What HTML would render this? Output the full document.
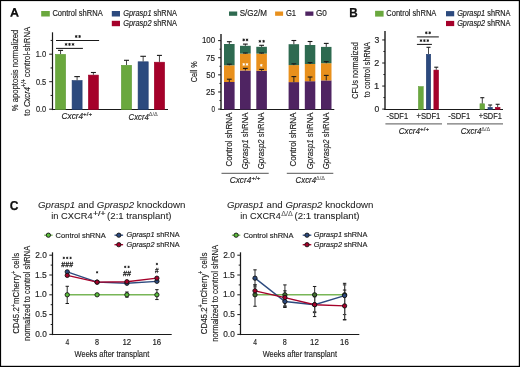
<!DOCTYPE html>
<html><head><meta charset="utf-8"><style>
html,body{margin:0;padding:0;background:#fff;overflow:hidden;}
svg{display:block;will-change:transform;}
text{font-family:"Liberation Sans", sans-serif;}
</style></head><body>
<svg width="520" height="367" viewBox="0 0 520 367">
<rect x="0.00" y="0.00" width="520.00" height="367.00" fill="#fff" />
<path d="M10.1 16.8 L13.5 8.1 L15.5 8.1 L18.9 16.8 L16.8 16.8 L16.1 14.8 L12.9 14.8 L12.2 16.8 Z M13.5 13.1 L15.5 13.1 L14.5 10.3 Z" fill="#111" fill-rule="evenodd"/>
<rect x="41.20" y="11.00" width="8.60" height="5.50" fill="#6aa83e" />
<text x="52.42" y="16.00" font-size="8.2" textLength="50.31" lengthAdjust="spacingAndGlyphs" fill="#232323" stroke="#232323" stroke-width="0.16"><tspan>Control shRNA</tspan></text>
<rect x="111.80" y="11.00" width="8.20" height="5.50" fill="#2c4a7e" />
<text x="123.13" y="15.80" font-size="8.2" textLength="53.88" lengthAdjust="spacingAndGlyphs" fill="#232323" stroke="#232323" stroke-width="0.16"><tspan font-style="italic">Gprasp1</tspan><tspan> shRNA</tspan></text>
<rect x="111.80" y="20.80" width="8.20" height="5.40" fill="#a5012a" />
<text x="123.13" y="25.80" font-size="8.2" textLength="53.88" lengthAdjust="spacingAndGlyphs" fill="#232323" stroke="#232323" stroke-width="0.16"><tspan font-style="italic">Gprasp2</tspan><tspan> shRNA</tspan></text>
<line x1="52.50" y1="32.30" x2="52.50" y2="110.10" stroke="#1a1a1a" stroke-width="1.2" />
<line x1="51.90" y1="109.50" x2="168.00" y2="109.50" stroke="#1a1a1a" stroke-width="1.1" />
<line x1="49.20" y1="109.20" x2="52.50" y2="109.20" stroke="#1a1a1a" stroke-width="1.0" />
<text x="35.90" y="112.15" font-size="8.9" textLength="10.25" lengthAdjust="spacingAndGlyphs" fill="#232323" stroke="#232323" stroke-width="0.16"><tspan>0.0</tspan></text>
<line x1="49.20" y1="81.70" x2="52.50" y2="81.70" stroke="#1a1a1a" stroke-width="1.0" />
<text x="35.90" y="84.65" font-size="8.9" textLength="10.29" lengthAdjust="spacingAndGlyphs" fill="#232323" stroke="#232323" stroke-width="0.16"><tspan>0.5</tspan></text>
<line x1="49.20" y1="54.20" x2="52.50" y2="54.20" stroke="#1a1a1a" stroke-width="1.0" />
<text x="35.63" y="57.15" font-size="8.9" textLength="10.53" lengthAdjust="spacingAndGlyphs" fill="#232323" stroke="#232323" stroke-width="0.16"><tspan>1.0</tspan></text>
<line x1="50.60" y1="95.45" x2="52.50" y2="95.45" stroke="#1a1a1a" stroke-width="1.0" />
<line x1="50.60" y1="67.95" x2="52.50" y2="67.95" stroke="#1a1a1a" stroke-width="1.0" />
<line x1="50.60" y1="40.45" x2="52.50" y2="40.45" stroke="#1a1a1a" stroke-width="1.0" />
<rect x="55.50" y="54.40" width="10.10" height="55.10" fill="#6aa83e" stroke="#5e9a36" stroke-width="0.6"/>
<line x1="60.55" y1="54.10" x2="60.55" y2="50.40" stroke="#333" stroke-width="0.9" />
<line x1="58.05" y1="50.40" x2="63.05" y2="50.40" stroke="#1a1a1a" stroke-width="1.1" />
<rect x="72.10" y="80.60" width="10.00" height="28.90" fill="#2c4a7e" stroke="#1f3b6e" stroke-width="0.6"/>
<line x1="77.10" y1="80.30" x2="77.10" y2="76.60" stroke="#333" stroke-width="0.9" />
<line x1="74.30" y1="76.60" x2="79.90" y2="76.60" stroke="#1a1a1a" stroke-width="1.1" />
<rect x="88.40" y="75.10" width="10.00" height="34.40" fill="#a5012a" stroke="#9a0126" stroke-width="0.6"/>
<line x1="93.40" y1="74.80" x2="93.40" y2="72.50" stroke="#333" stroke-width="0.9" />
<line x1="90.90" y1="72.50" x2="95.90" y2="72.50" stroke="#1a1a1a" stroke-width="1.1" />
<rect x="121.40" y="65.30" width="10.20" height="44.20" fill="#6aa83e" stroke="#5e9a36" stroke-width="0.6"/>
<line x1="126.50" y1="65.00" x2="126.50" y2="60.30" stroke="#333" stroke-width="0.9" />
<line x1="124.00" y1="60.30" x2="129.00" y2="60.30" stroke="#1a1a1a" stroke-width="1.1" />
<rect x="138.10" y="61.80" width="10.10" height="47.70" fill="#2c4a7e" stroke="#1f3b6e" stroke-width="0.6"/>
<line x1="143.15" y1="61.50" x2="143.15" y2="56.30" stroke="#333" stroke-width="0.9" />
<line x1="140.35" y1="56.30" x2="145.95" y2="56.30" stroke="#1a1a1a" stroke-width="1.1" />
<rect x="154.30" y="62.20" width="10.30" height="47.30" fill="#a5012a" stroke="#9a0126" stroke-width="0.6"/>
<line x1="159.45" y1="61.90" x2="159.45" y2="55.40" stroke="#333" stroke-width="0.9" />
<line x1="156.95" y1="55.40" x2="161.95" y2="55.40" stroke="#1a1a1a" stroke-width="1.1" />
<line x1="56.00" y1="40.40" x2="99.10" y2="40.40" stroke="#1a1a1a" stroke-width="1.05" />
<line x1="56.00" y1="48.40" x2="82.90" y2="48.40" stroke="#1a1a1a" stroke-width="1.05" />
<path d="M76.20 35.06L76.20 37.94M74.96 35.78L77.44 37.22M77.44 35.78L74.96 37.22" stroke="#1a1a1a" stroke-width="0.89" fill="none"/>
<circle cx="76.20" cy="36.50" r="0.63" fill="#1a1a1a"/>
<path d="M79.60 35.06L79.60 37.94M78.36 35.78L80.84 37.22M80.84 35.78L78.36 37.22" stroke="#1a1a1a" stroke-width="0.89" fill="none"/>
<circle cx="79.60" cy="36.50" r="0.63" fill="#1a1a1a"/>
<path d="M66.10 42.96L66.10 45.84M64.86 43.68L67.34 45.12M67.34 43.68L64.86 45.12" stroke="#1a1a1a" stroke-width="0.89" fill="none"/>
<circle cx="66.10" cy="44.40" r="0.63" fill="#1a1a1a"/>
<path d="M69.50 42.96L69.50 45.84M68.26 43.68L70.74 45.12M70.74 43.68L68.26 45.12" stroke="#1a1a1a" stroke-width="0.89" fill="none"/>
<circle cx="69.50" cy="44.40" r="0.63" fill="#1a1a1a"/>
<path d="M73.00 42.96L73.00 45.84M71.76 43.68L74.24 45.12M74.24 43.68L71.76 45.12" stroke="#1a1a1a" stroke-width="0.89" fill="none"/>
<circle cx="73.00" cy="44.40" r="0.63" fill="#1a1a1a"/>
<text x="61.55" y="118.60" font-size="8.6" textLength="21.55" lengthAdjust="spacingAndGlyphs" fill="#232323" stroke="#232323" stroke-width="0.16"><tspan font-style="italic">Cxcr4</tspan></text>
<text x="83.09" y="115.60" font-size="6.0" textLength="9.03" lengthAdjust="spacingAndGlyphs" fill="#232323" stroke="#232323" stroke-width="0.16"><tspan>+/+</tspan></text>
<text x="128.57" y="119.60" font-size="8.6" textLength="20.21" lengthAdjust="spacingAndGlyphs" fill="#232323" stroke="#232323" stroke-width="0.16"><tspan font-style="italic">Cxcr4</tspan></text>
<text x="148.83" y="116.30" font-size="5.9" textLength="9.03" lengthAdjust="spacingAndGlyphs" fill="#555" stroke="#555" stroke-width="0.05"><tspan>Δ/Δ</tspan></text>
<text x="18.10" y="111.17" font-size="9.8" textLength="81.48" lengthAdjust="spacingAndGlyphs" transform="rotate(-90 18.10 111.17)" fill="#232323" stroke="#232323" stroke-width="0.16"><tspan>% apoptosis normalized</tspan></text>
<text x="29.70" y="115.72" font-size="9.8" textLength="88.93" lengthAdjust="spacingAndGlyphs" transform="rotate(-90 29.70 115.72)" fill="#232323" stroke="#232323" stroke-width="0.16"><tspan>to </tspan><tspan font-style="italic">Cxcr4</tspan><tspan font-size="6.66" dy="-3.72">+/+</tspan><tspan dy="3.72"> control-shRNA</tspan></text>
<rect x="229.00" y="11.50" width="8.20" height="4.30" fill="#2e6a50" />
<text x="239.64" y="15.60" font-size="8.2" textLength="27.24" lengthAdjust="spacingAndGlyphs" fill="#232323" stroke="#232323" stroke-width="0.16"><tspan>S/G2/M</tspan></text>
<rect x="275.10" y="11.50" width="8.00" height="4.30" fill="#e8901c" />
<text x="285.92" y="15.60" font-size="8.2" textLength="10.22" lengthAdjust="spacingAndGlyphs" fill="#232323" stroke="#232323" stroke-width="0.16"><tspan>G1</tspan></text>
<rect x="305.30" y="11.50" width="8.10" height="4.30" fill="#4f2462" />
<text x="315.89" y="15.60" font-size="8.2" textLength="10.89" lengthAdjust="spacingAndGlyphs" fill="#232323" stroke="#232323" stroke-width="0.16"><tspan>G0</tspan></text>
<line x1="221.00" y1="33.90" x2="221.00" y2="110.10" stroke="#1a1a1a" stroke-width="1.4" />
<line x1="220.30" y1="109.50" x2="334.30" y2="109.50" stroke="#1a1a1a" stroke-width="1.1" />
<line x1="218.10" y1="109.10" x2="221.00" y2="109.10" stroke="#1a1a1a" stroke-width="1.0" />
<text x="211.55" y="111.95" font-size="8.9" textLength="3.48" lengthAdjust="spacingAndGlyphs" fill="#232323" stroke="#232323" stroke-width="0.16"><tspan>0</tspan></text>
<line x1="218.10" y1="91.97" x2="221.00" y2="91.97" stroke="#1a1a1a" stroke-width="1.0" />
<text x="206.09" y="94.82" font-size="8.9" textLength="9.05" lengthAdjust="spacingAndGlyphs" fill="#232323" stroke="#232323" stroke-width="0.16"><tspan>25</tspan></text>
<line x1="218.10" y1="74.85" x2="221.00" y2="74.85" stroke="#1a1a1a" stroke-width="1.0" />
<text x="206.18" y="77.70" font-size="8.9" textLength="8.92" lengthAdjust="spacingAndGlyphs" fill="#232323" stroke="#232323" stroke-width="0.16"><tspan>50</tspan></text>
<line x1="218.10" y1="57.72" x2="221.00" y2="57.72" stroke="#1a1a1a" stroke-width="1.0" />
<text x="206.09" y="60.57" font-size="8.9" textLength="9.05" lengthAdjust="spacingAndGlyphs" fill="#232323" stroke="#232323" stroke-width="0.16"><tspan>75</tspan></text>
<line x1="218.10" y1="40.60" x2="221.00" y2="40.60" stroke="#1a1a1a" stroke-width="1.0" />
<text x="201.91" y="43.45" font-size="8.9" textLength="13.20" lengthAdjust="spacingAndGlyphs" fill="#232323" stroke="#232323" stroke-width="0.16"><tspan>100</tspan></text>
<line x1="219.50" y1="100.54" x2="221.00" y2="100.54" stroke="#1a1a1a" stroke-width="1.0" />
<line x1="219.50" y1="83.41" x2="221.00" y2="83.41" stroke="#1a1a1a" stroke-width="1.0" />
<line x1="219.50" y1="66.29" x2="221.00" y2="66.29" stroke="#1a1a1a" stroke-width="1.0" />
<line x1="219.50" y1="49.16" x2="221.00" y2="49.16" stroke="#1a1a1a" stroke-width="1.0" />
<rect x="224.00" y="82.00" width="10.60" height="27.50" fill="#4f2462" />
<rect x="224.00" y="65.30" width="10.60" height="16.70" fill="#e8901c" />
<rect x="224.00" y="44.00" width="10.60" height="21.30" fill="#2e6a50" />
<line x1="229.30" y1="82.00" x2="229.30" y2="79.20" stroke="#1a1a1a" stroke-width="0.9" />
<line x1="226.90" y1="79.20" x2="231.70" y2="79.20" stroke="#1a1a1a" stroke-width="1.1" />
<line x1="229.30" y1="65.30" x2="229.30" y2="64.20" stroke="#1a1a1a" stroke-width="0.9" />
<line x1="226.90" y1="64.20" x2="231.70" y2="64.20" stroke="#1a1a1a" stroke-width="1.1" />
<line x1="229.30" y1="44.00" x2="229.30" y2="41.70" stroke="#1a1a1a" stroke-width="0.9" />
<line x1="226.90" y1="41.70" x2="231.70" y2="41.70" stroke="#1a1a1a" stroke-width="1.1" />
<rect x="240.00" y="70.50" width="10.70" height="39.00" fill="#4f2462" />
<rect x="240.00" y="53.60" width="10.70" height="16.90" fill="#e8901c" />
<rect x="240.00" y="45.80" width="10.70" height="7.80" fill="#2e6a50" />
<line x1="245.35" y1="70.50" x2="245.35" y2="68.40" stroke="#1a1a1a" stroke-width="0.9" />
<line x1="242.95" y1="68.40" x2="247.75" y2="68.40" stroke="#1a1a1a" stroke-width="1.1" />
<line x1="245.35" y1="53.60" x2="245.35" y2="53.00" stroke="#1a1a1a" stroke-width="0.9" />
<line x1="242.95" y1="53.00" x2="247.75" y2="53.00" stroke="#1a1a1a" stroke-width="1.1" />
<line x1="245.35" y1="45.80" x2="245.35" y2="44.10" stroke="#1a1a1a" stroke-width="0.9" />
<line x1="242.95" y1="44.10" x2="247.75" y2="44.10" stroke="#1a1a1a" stroke-width="1.1" />
<rect x="256.30" y="70.80" width="10.60" height="38.70" fill="#4f2462" />
<rect x="256.30" y="53.60" width="10.60" height="17.20" fill="#e8901c" />
<rect x="256.30" y="46.80" width="10.60" height="6.80" fill="#2e6a50" />
<line x1="261.60" y1="70.80" x2="261.60" y2="69.40" stroke="#1a1a1a" stroke-width="0.9" />
<line x1="259.20" y1="69.40" x2="264.00" y2="69.40" stroke="#1a1a1a" stroke-width="1.1" />
<line x1="261.60" y1="53.60" x2="261.60" y2="53.00" stroke="#1a1a1a" stroke-width="0.9" />
<line x1="259.20" y1="53.00" x2="264.00" y2="53.00" stroke="#1a1a1a" stroke-width="1.1" />
<line x1="261.60" y1="46.80" x2="261.60" y2="45.30" stroke="#1a1a1a" stroke-width="0.9" />
<line x1="259.20" y1="45.30" x2="264.00" y2="45.30" stroke="#1a1a1a" stroke-width="1.1" />
<rect x="288.60" y="82.10" width="10.50" height="27.40" fill="#4f2462" />
<rect x="288.60" y="65.10" width="10.50" height="17.00" fill="#e8901c" />
<rect x="288.60" y="44.20" width="10.50" height="20.90" fill="#2e6a50" />
<line x1="293.85" y1="82.10" x2="293.85" y2="76.60" stroke="#1a1a1a" stroke-width="0.9" />
<line x1="291.45" y1="76.60" x2="296.25" y2="76.60" stroke="#1a1a1a" stroke-width="1.1" />
<line x1="293.85" y1="65.10" x2="293.85" y2="63.80" stroke="#1a1a1a" stroke-width="0.9" />
<line x1="291.45" y1="63.80" x2="296.25" y2="63.80" stroke="#1a1a1a" stroke-width="1.1" />
<line x1="293.85" y1="44.20" x2="293.85" y2="40.50" stroke="#1a1a1a" stroke-width="0.9" />
<line x1="291.45" y1="40.50" x2="296.25" y2="40.50" stroke="#1a1a1a" stroke-width="1.1" />
<rect x="304.80" y="81.20" width="10.50" height="28.30" fill="#4f2462" />
<rect x="304.80" y="64.00" width="10.50" height="17.20" fill="#e8901c" />
<rect x="304.80" y="45.00" width="10.50" height="19.00" fill="#2e6a50" />
<line x1="310.05" y1="81.20" x2="310.05" y2="77.00" stroke="#1a1a1a" stroke-width="0.9" />
<line x1="307.65" y1="77.00" x2="312.45" y2="77.00" stroke="#1a1a1a" stroke-width="1.1" />
<line x1="310.05" y1="64.00" x2="310.05" y2="62.60" stroke="#1a1a1a" stroke-width="0.9" />
<line x1="307.65" y1="62.60" x2="312.45" y2="62.60" stroke="#1a1a1a" stroke-width="1.1" />
<line x1="310.05" y1="45.00" x2="310.05" y2="41.50" stroke="#1a1a1a" stroke-width="0.9" />
<line x1="307.65" y1="41.50" x2="312.45" y2="41.50" stroke="#1a1a1a" stroke-width="1.1" />
<rect x="321.00" y="80.40" width="10.50" height="29.10" fill="#4f2462" />
<rect x="321.00" y="63.20" width="10.50" height="17.20" fill="#e8901c" />
<rect x="321.00" y="46.90" width="10.50" height="16.30" fill="#2e6a50" />
<line x1="326.25" y1="80.40" x2="326.25" y2="75.40" stroke="#1a1a1a" stroke-width="0.9" />
<line x1="323.85" y1="75.40" x2="328.65" y2="75.40" stroke="#1a1a1a" stroke-width="1.1" />
<line x1="326.25" y1="63.20" x2="326.25" y2="61.60" stroke="#1a1a1a" stroke-width="0.9" />
<line x1="323.85" y1="61.60" x2="328.65" y2="61.60" stroke="#1a1a1a" stroke-width="1.1" />
<line x1="326.25" y1="46.90" x2="326.25" y2="43.40" stroke="#1a1a1a" stroke-width="0.9" />
<line x1="323.85" y1="43.40" x2="328.65" y2="43.40" stroke="#1a1a1a" stroke-width="1.1" />
<path d="M243.70 38.52L243.70 41.27M242.51 39.21L244.89 40.59M244.89 39.21L242.51 40.59" stroke="#1a1a1a" stroke-width="0.85" fill="none"/>
<circle cx="243.70" cy="39.90" r="0.61" fill="#1a1a1a"/>
<path d="M247.00 38.52L247.00 41.27M245.81 39.21L248.19 40.59M248.19 39.21L245.81 40.59" stroke="#1a1a1a" stroke-width="0.85" fill="none"/>
<circle cx="247.00" cy="39.90" r="0.61" fill="#1a1a1a"/>
<path d="M259.90 39.92L259.90 42.67M258.71 40.61L261.09 41.99M261.09 40.61L258.71 41.99" stroke="#1a1a1a" stroke-width="0.85" fill="none"/>
<circle cx="259.90" cy="41.30" r="0.61" fill="#1a1a1a"/>
<path d="M263.60 39.92L263.60 42.67M262.41 40.61L264.79 41.99M264.79 40.61L262.41 41.99" stroke="#1a1a1a" stroke-width="0.85" fill="none"/>
<circle cx="263.60" cy="41.30" r="0.61" fill="#1a1a1a"/>
<path d="M243.70 63.03L243.70 65.78M242.51 63.71L244.89 65.09M244.89 63.71L242.51 65.09" stroke="#fff" stroke-width="0.85" fill="none"/>
<circle cx="243.70" cy="64.40" r="0.61" fill="#fff"/>
<path d="M247.00 63.03L247.00 65.78M245.81 63.71L248.19 65.09M248.19 63.71L245.81 65.09" stroke="#fff" stroke-width="0.85" fill="none"/>
<circle cx="247.00" cy="64.40" r="0.61" fill="#fff"/>
<path d="M261.30 63.92L261.30 66.67M260.11 64.61L262.49 65.99M262.49 64.61L260.11 65.99" stroke="#fff" stroke-width="0.85" fill="none"/>
<circle cx="261.30" cy="65.30" r="0.61" fill="#fff"/>
<text x="231.80" y="166.61" font-size="9.2" textLength="54.14" lengthAdjust="spacingAndGlyphs" transform="rotate(-90 231.80 166.61)" fill="#232323" stroke="#232323" stroke-width="0.16"><tspan>Control shRNA</tspan></text>
<text x="247.80" y="169.19" font-size="9.2" textLength="56.70" lengthAdjust="spacingAndGlyphs" transform="rotate(-90 247.80 169.19)" fill="#232323" stroke="#232323" stroke-width="0.16"><tspan font-style="italic">Gprasp1</tspan><tspan> shRNA</tspan></text>
<text x="264.10" y="169.19" font-size="9.2" textLength="56.70" lengthAdjust="spacingAndGlyphs" transform="rotate(-90 264.10 169.19)" fill="#232323" stroke="#232323" stroke-width="0.16"><tspan font-style="italic">Gprasp2</tspan><tspan> shRNA</tspan></text>
<text x="296.40" y="166.61" font-size="9.2" textLength="54.14" lengthAdjust="spacingAndGlyphs" transform="rotate(-90 296.40 166.61)" fill="#232323" stroke="#232323" stroke-width="0.16"><tspan>Control shRNA</tspan></text>
<text x="312.60" y="169.19" font-size="9.2" textLength="56.70" lengthAdjust="spacingAndGlyphs" transform="rotate(-90 312.60 169.19)" fill="#232323" stroke="#232323" stroke-width="0.16"><tspan font-style="italic">Gprasp1</tspan><tspan> shRNA</tspan></text>
<text x="328.80" y="169.19" font-size="9.2" textLength="56.70" lengthAdjust="spacingAndGlyphs" transform="rotate(-90 328.80 169.19)" fill="#232323" stroke="#232323" stroke-width="0.16"><tspan font-style="italic">Gprasp2</tspan><tspan> shRNA</tspan></text>
<line x1="221.50" y1="173.30" x2="268.70" y2="173.30" stroke="#777" stroke-width="1.3" />
<line x1="286.80" y1="173.30" x2="333.30" y2="173.30" stroke="#777" stroke-width="1.3" />
<text x="229.75" y="183.20" font-size="8.6" textLength="21.55" lengthAdjust="spacingAndGlyphs" fill="#232323" stroke="#232323" stroke-width="0.16"><tspan font-style="italic">Cxcr4</tspan></text>
<text x="251.49" y="180.40" font-size="6.0" textLength="9.03" lengthAdjust="spacingAndGlyphs" fill="#232323" stroke="#232323" stroke-width="0.16"><tspan>+/+</tspan></text>
<text x="295.57" y="183.20" font-size="8.6" textLength="20.52" lengthAdjust="spacingAndGlyphs" fill="#232323" stroke="#232323" stroke-width="0.16"><tspan font-style="italic">Cxcr4</tspan></text>
<text x="316.04" y="180.30" font-size="5.9" textLength="8.72" lengthAdjust="spacingAndGlyphs" fill="#555" stroke="#555" stroke-width="0.05"><tspan>Δ/Δ</tspan></text>
<text x="196.90" y="82.27" font-size="9.8" textLength="21.12" lengthAdjust="spacingAndGlyphs" transform="rotate(-90 196.90 82.27)" fill="#232323" stroke="#232323" stroke-width="0.16"><tspan>Cell %</tspan></text>
<text x="349.24" y="16.70" font-size="12.4" textLength="8.41" lengthAdjust="spacingAndGlyphs" fill="#111" stroke="#111" stroke-width="0.25"><tspan font-weight="bold">B</tspan></text>
<rect x="375.10" y="10.80" width="8.50" height="5.80" fill="#6aa83e" />
<text x="386.33" y="16.00" font-size="8.2" textLength="50.01" lengthAdjust="spacingAndGlyphs" fill="#232323" stroke="#232323" stroke-width="0.16"><tspan>Control shRNA</tspan></text>
<rect x="446.00" y="11.10" width="8.20" height="5.20" fill="#2c4a7e" />
<text x="457.13" y="15.80" font-size="8.2" textLength="53.27" lengthAdjust="spacingAndGlyphs" fill="#232323" stroke="#232323" stroke-width="0.16"><tspan font-style="italic">Gprasp1</tspan><tspan> shRNA</tspan></text>
<rect x="446.00" y="20.90" width="8.20" height="5.20" fill="#a5012a" />
<text x="457.13" y="25.50" font-size="8.2" textLength="53.27" lengthAdjust="spacingAndGlyphs" fill="#232323" stroke="#232323" stroke-width="0.16"><tspan font-style="italic">Gprasp2</tspan><tspan> shRNA</tspan></text>
<line x1="385.00" y1="30.90" x2="385.00" y2="110.10" stroke="#1a1a1a" stroke-width="1.4" />
<line x1="384.30" y1="109.50" x2="503.00" y2="109.50" stroke="#1a1a1a" stroke-width="1.1" />
<line x1="382.20" y1="109.10" x2="385.00" y2="109.10" stroke="#1a1a1a" stroke-width="1.0" />
<text x="374.46" y="112.00" font-size="8.9" textLength="4.75" lengthAdjust="spacingAndGlyphs" fill="#232323" stroke="#232323" stroke-width="0.16"><tspan>0</tspan></text>
<line x1="382.20" y1="86.05" x2="385.00" y2="86.05" stroke="#1a1a1a" stroke-width="1.0" />
<text x="374.09" y="88.95" font-size="8.9" textLength="5.24" lengthAdjust="spacingAndGlyphs" fill="#232323" stroke="#232323" stroke-width="0.16"><tspan>1</tspan></text>
<line x1="382.20" y1="63.00" x2="385.00" y2="63.00" stroke="#1a1a1a" stroke-width="1.0" />
<text x="374.35" y="65.90" font-size="8.9" textLength="5.01" lengthAdjust="spacingAndGlyphs" fill="#232323" stroke="#232323" stroke-width="0.16"><tspan>2</tspan></text>
<line x1="382.20" y1="39.95" x2="385.00" y2="39.95" stroke="#1a1a1a" stroke-width="1.0" />
<text x="374.45" y="42.85" font-size="8.9" textLength="4.80" lengthAdjust="spacingAndGlyphs" fill="#232323" stroke="#232323" stroke-width="0.16"><tspan>3</tspan></text>
<line x1="383.40" y1="97.57" x2="385.00" y2="97.57" stroke="#1a1a1a" stroke-width="1.0" />
<line x1="383.40" y1="74.52" x2="385.00" y2="74.52" stroke="#1a1a1a" stroke-width="1.0" />
<line x1="383.40" y1="51.47" x2="385.00" y2="51.47" stroke="#1a1a1a" stroke-width="1.0" />
<rect x="418.35" y="86.55" width="4.90" height="22.95" fill="#6aa83e" stroke="#5e9a36" stroke-width="0.5"/>
<rect x="426.25" y="54.25" width="4.50" height="55.25" fill="#2c4a7e" stroke="#1f3b6e" stroke-width="0.5"/>
<line x1="428.50" y1="54.00" x2="428.50" y2="47.30" stroke="#333" stroke-width="0.9" />
<line x1="426.50" y1="47.30" x2="430.50" y2="47.30" stroke="#1a1a1a" stroke-width="1.1" />
<rect x="433.85" y="70.05" width="4.80" height="39.45" fill="#a5012a" stroke="#9a0126" stroke-width="0.5"/>
<line x1="436.25" y1="69.80" x2="436.25" y2="67.20" stroke="#333" stroke-width="0.9" />
<line x1="434.25" y1="67.20" x2="438.25" y2="67.20" stroke="#1a1a1a" stroke-width="1.1" />
<rect x="479.95" y="103.75" width="4.70" height="5.75" fill="#6aa83e" stroke="#5e9a36" stroke-width="0.5"/>
<line x1="482.30" y1="103.50" x2="482.30" y2="97.70" stroke="#333" stroke-width="0.9" />
<line x1="480.30" y1="97.70" x2="484.30" y2="97.70" stroke="#1a1a1a" stroke-width="1.1" />
<rect x="487.95" y="107.25" width="4.40" height="2.25" fill="#2c4a7e" stroke="#1f3b6e" stroke-width="0.5"/>
<line x1="490.15" y1="107.00" x2="490.15" y2="105.00" stroke="#333" stroke-width="0.9" />
<line x1="488.15" y1="105.00" x2="492.15" y2="105.00" stroke="#1a1a1a" stroke-width="1.1" />
<rect x="495.25" y="107.25" width="4.80" height="2.25" fill="#a5012a" stroke="#9a0126" stroke-width="0.5"/>
<line x1="497.65" y1="107.00" x2="497.65" y2="104.30" stroke="#333" stroke-width="0.9" />
<line x1="495.65" y1="104.30" x2="499.65" y2="104.30" stroke="#1a1a1a" stroke-width="1.1" />
<line x1="416.90" y1="36.90" x2="438.80" y2="36.90" stroke="#1a1a1a" stroke-width="1.05" />
<line x1="416.90" y1="44.40" x2="431.90" y2="44.40" stroke="#1a1a1a" stroke-width="1.05" />
<path d="M426.30 31.42L426.30 34.17M425.11 32.11L427.49 33.49M427.49 32.11L425.11 33.49" stroke="#1a1a1a" stroke-width="0.85" fill="none"/>
<circle cx="426.30" cy="32.80" r="0.61" fill="#1a1a1a"/>
<path d="M429.70 31.42L429.70 34.17M428.51 32.11L430.89 33.49M430.89 32.11L428.51 33.49" stroke="#1a1a1a" stroke-width="0.85" fill="none"/>
<circle cx="429.70" cy="32.80" r="0.61" fill="#1a1a1a"/>
<path d="M421.00 39.23L421.00 41.98M419.81 39.91L422.19 41.29M422.19 39.91L419.81 41.29" stroke="#1a1a1a" stroke-width="0.85" fill="none"/>
<circle cx="421.00" cy="40.60" r="0.61" fill="#1a1a1a"/>
<path d="M424.40 39.23L424.40 41.98M423.21 39.91L425.59 41.29M425.59 39.91L423.21 41.29" stroke="#1a1a1a" stroke-width="0.85" fill="none"/>
<circle cx="424.40" cy="40.60" r="0.61" fill="#1a1a1a"/>
<path d="M427.80 39.23L427.80 41.98M426.61 39.91L428.99 41.29M428.99 39.91L426.61 41.29" stroke="#1a1a1a" stroke-width="0.85" fill="none"/>
<circle cx="427.80" cy="40.60" r="0.61" fill="#1a1a1a"/>
<text x="386.57" y="119.10" font-size="8.6" textLength="21.46" lengthAdjust="spacingAndGlyphs" fill="#232323" stroke="#232323" stroke-width="0.16"><tspan>-SDF1</tspan></text>
<text x="416.52" y="119.10" font-size="8.6" textLength="23.82" lengthAdjust="spacingAndGlyphs" fill="#232323" stroke="#232323" stroke-width="0.16"><tspan>+SDF1</tspan></text>
<text x="448.26" y="118.80" font-size="8.6" textLength="21.88" lengthAdjust="spacingAndGlyphs" fill="#232323" stroke="#232323" stroke-width="0.16"><tspan>-SDF1</tspan></text>
<text x="478.63" y="118.80" font-size="8.6" textLength="23.20" lengthAdjust="spacingAndGlyphs" fill="#232323" stroke="#232323" stroke-width="0.16"><tspan>+SDF1</tspan></text>
<line x1="385.40" y1="123.80" x2="442.00" y2="123.80" stroke="#777" stroke-width="1.3" />
<line x1="447.00" y1="123.80" x2="503.00" y2="123.80" stroke="#777" stroke-width="1.3" />
<text x="398.75" y="134.00" font-size="8.6" textLength="21.14" lengthAdjust="spacingAndGlyphs" fill="#232323" stroke="#232323" stroke-width="0.16"><tspan font-style="italic">Cxcr4</tspan></text>
<text x="420.09" y="131.20" font-size="6.0" textLength="9.03" lengthAdjust="spacingAndGlyphs" fill="#232323" stroke="#232323" stroke-width="0.16"><tspan>+/+</tspan></text>
<text x="460.76" y="134.00" font-size="8.6" textLength="20.73" lengthAdjust="spacingAndGlyphs" fill="#232323" stroke="#232323" stroke-width="0.16"><tspan font-style="italic">Cxcr4</tspan></text>
<text x="481.34" y="131.30" font-size="5.9" textLength="8.82" lengthAdjust="spacingAndGlyphs" fill="#555" stroke="#555" stroke-width="0.05"><tspan>Δ/Δ</tspan></text>
<text x="358.20" y="98.77" font-size="9.8" textLength="56.64" lengthAdjust="spacingAndGlyphs" transform="rotate(-90 358.20 98.77)" fill="#232323" stroke="#232323" stroke-width="0.16"><tspan>CFUs normalized</tspan></text>
<text x="370.00" y="97.21" font-size="9.8" textLength="55.14" lengthAdjust="spacingAndGlyphs" transform="rotate(-90 370.00 97.21)" fill="#232323" stroke="#232323" stroke-width="0.16"><tspan>to control shRNA</tspan></text>
<text x="9.82" y="209.90" font-size="12.4" textLength="8.71" lengthAdjust="spacingAndGlyphs" fill="#111" stroke="#111" stroke-width="0.25"><tspan font-weight="bold">C</tspan></text>
<text x="38.01" y="207.80" font-size="9.2" textLength="147.43" lengthAdjust="spacingAndGlyphs" fill="#232323" stroke="#232323" stroke-width="0.06"><tspan font-style="italic">Gprasp1</tspan><tspan> and </tspan><tspan font-style="italic">Gprasp2</tspan><tspan> knockdown</tspan></text>
<text x="51.30" y="219.10" font-size="9.2" textLength="41.29" lengthAdjust="spacingAndGlyphs" fill="#232323" stroke="#232323" stroke-width="0.06"><tspan>in CXCR4</tspan></text>
<text x="93.07" y="215.90" font-size="6.4" textLength="12.36" lengthAdjust="spacingAndGlyphs" fill="#232323" stroke="#232323" stroke-width="0.16"><tspan>+/+</tspan></text>
<text x="107.13" y="219.10" font-size="9.2" textLength="64.36" lengthAdjust="spacingAndGlyphs" fill="#232323" stroke="#232323" stroke-width="0.06"><tspan>(2:1 transplant)</tspan></text>
<text x="226.92" y="207.80" font-size="9.2" textLength="146.52" lengthAdjust="spacingAndGlyphs" fill="#232323" stroke="#232323" stroke-width="0.06"><tspan font-style="italic">Gprasp1</tspan><tspan> and </tspan><tspan font-style="italic">Gprasp2</tspan><tspan> knockdown</tspan></text>
<text x="240.31" y="219.10" font-size="9.2" textLength="40.47" lengthAdjust="spacingAndGlyphs" fill="#232323" stroke="#232323" stroke-width="0.06"><tspan>in CXCR4</tspan></text>
<text x="281.29" y="216.40" font-size="6.4" textLength="11.52" lengthAdjust="spacingAndGlyphs" fill="#555" stroke="#555" stroke-width="0.05"><tspan>Δ/Δ</tspan></text>
<text x="294.52" y="219.10" font-size="9.2" textLength="65.07" lengthAdjust="spacingAndGlyphs" fill="#232323" stroke="#232323" stroke-width="0.06"><tspan>(2:1 transplant)</tspan></text>
<line x1="44.20" y1="235.20" x2="52.60" y2="235.20" stroke="#78b657" stroke-width="1.3" />
<circle cx="48.40" cy="235.20" r="2.15" fill="#5cbe3c" stroke="#111" stroke-width="0.9"/>
<text x="55.62" y="237.60" font-size="7.6" textLength="50.11" lengthAdjust="spacingAndGlyphs" fill="#232323" stroke="#232323" stroke-width="0.16"><tspan>Control shRNA</tspan></text>
<line x1="114.50" y1="235.20" x2="123.10" y2="235.20" stroke="#2c4a7e" stroke-width="1.3" />
<circle cx="118.80" cy="235.20" r="2.15" fill="#2c4a7e" stroke="#111" stroke-width="0.9"/>
<text x="126.54" y="237.40" font-size="7.6" textLength="53.07" lengthAdjust="spacingAndGlyphs" fill="#232323" stroke="#232323" stroke-width="0.16"><tspan font-style="italic">Gprasp1</tspan><tspan> shRNA</tspan></text>
<line x1="114.50" y1="244.70" x2="123.10" y2="244.70" stroke="#a5012a" stroke-width="1.3" />
<circle cx="118.80" cy="244.70" r="2.15" fill="#a5012a" stroke="#111" stroke-width="0.9"/>
<text x="126.54" y="246.80" font-size="7.6" textLength="53.07" lengthAdjust="spacingAndGlyphs" fill="#232323" stroke="#232323" stroke-width="0.16"><tspan font-style="italic">Gprasp2</tspan><tspan> shRNA</tspan></text>
<line x1="231.90" y1="235.20" x2="240.30" y2="235.20" stroke="#78b657" stroke-width="1.3" />
<circle cx="236.10" cy="235.20" r="2.15" fill="#5cbe3c" stroke="#111" stroke-width="0.9"/>
<text x="243.42" y="237.60" font-size="7.6" textLength="50.11" lengthAdjust="spacingAndGlyphs" fill="#232323" stroke="#232323" stroke-width="0.16"><tspan>Control shRNA</tspan></text>
<line x1="302.70" y1="235.20" x2="311.30" y2="235.20" stroke="#2c4a7e" stroke-width="1.3" />
<circle cx="307.00" cy="235.20" r="2.15" fill="#2c4a7e" stroke="#111" stroke-width="0.9"/>
<text x="313.83" y="237.40" font-size="7.6" textLength="53.47" lengthAdjust="spacingAndGlyphs" fill="#232323" stroke="#232323" stroke-width="0.16"><tspan font-style="italic">Gprasp1</tspan><tspan> shRNA</tspan></text>
<line x1="302.70" y1="244.70" x2="311.30" y2="244.70" stroke="#a5012a" stroke-width="1.3" />
<circle cx="307.00" cy="244.70" r="2.15" fill="#a5012a" stroke="#111" stroke-width="0.9"/>
<text x="313.83" y="246.80" font-size="7.6" textLength="53.47" lengthAdjust="spacingAndGlyphs" fill="#232323" stroke="#232323" stroke-width="0.16"><tspan font-style="italic">Gprasp2</tspan><tspan> shRNA</tspan></text>
<line x1="52.50" y1="252.30" x2="52.50" y2="335.10" stroke="#1a1a1a" stroke-width="1.25" />
<line x1="51.90" y1="334.50" x2="171.70" y2="334.50" stroke="#1a1a1a" stroke-width="1.15" />
<line x1="49.30" y1="334.40" x2="52.50" y2="334.40" stroke="#1a1a1a" stroke-width="1.0" />
<text x="35.27" y="337.00" font-size="8.9" textLength="11.52" lengthAdjust="spacingAndGlyphs" fill="#232323" stroke="#232323" stroke-width="0.16"><tspan>0.0</tspan></text>
<line x1="49.30" y1="314.60" x2="52.50" y2="314.60" stroke="#1a1a1a" stroke-width="1.0" />
<text x="35.27" y="317.20" font-size="8.9" textLength="11.57" lengthAdjust="spacingAndGlyphs" fill="#232323" stroke="#232323" stroke-width="0.16"><tspan>0.5</tspan></text>
<line x1="49.30" y1="294.80" x2="52.50" y2="294.80" stroke="#1a1a1a" stroke-width="1.0" />
<text x="34.96" y="297.40" font-size="8.9" textLength="11.84" lengthAdjust="spacingAndGlyphs" fill="#232323" stroke="#232323" stroke-width="0.16"><tspan>1.0</tspan></text>
<line x1="49.30" y1="275.00" x2="52.50" y2="275.00" stroke="#1a1a1a" stroke-width="1.0" />
<text x="34.96" y="277.60" font-size="8.9" textLength="11.88" lengthAdjust="spacingAndGlyphs" fill="#232323" stroke="#232323" stroke-width="0.16"><tspan>1.5</tspan></text>
<line x1="49.30" y1="255.20" x2="52.50" y2="255.20" stroke="#1a1a1a" stroke-width="1.0" />
<text x="35.18" y="257.80" font-size="8.9" textLength="11.61" lengthAdjust="spacingAndGlyphs" fill="#232323" stroke="#232323" stroke-width="0.16"><tspan>2.0</tspan></text>
<line x1="50.70" y1="324.50" x2="52.50" y2="324.50" stroke="#1a1a1a" stroke-width="1.0" />
<line x1="50.70" y1="304.70" x2="52.50" y2="304.70" stroke="#1a1a1a" stroke-width="1.0" />
<line x1="50.70" y1="284.90" x2="52.50" y2="284.90" stroke="#1a1a1a" stroke-width="1.0" />
<line x1="50.70" y1="265.10" x2="52.50" y2="265.10" stroke="#1a1a1a" stroke-width="1.0" />
<text x="65.42" y="344.70" font-size="8.9" textLength="3.74" lengthAdjust="spacingAndGlyphs" fill="#232323" stroke="#232323" stroke-width="0.16"><tspan>4</tspan></text>
<text x="95.07" y="344.70" font-size="8.9" textLength="4.02" lengthAdjust="spacingAndGlyphs" fill="#232323" stroke="#232323" stroke-width="0.16"><tspan>8</tspan></text>
<text x="122.41" y="344.70" font-size="8.9" textLength="8.81" lengthAdjust="spacingAndGlyphs" fill="#232323" stroke="#232323" stroke-width="0.16"><tspan>12</tspan></text>
<text x="152.41" y="344.70" font-size="8.9" textLength="8.72" lengthAdjust="spacingAndGlyphs" fill="#232323" stroke="#232323" stroke-width="0.16"><tspan>16</tspan></text>
<line x1="67.25" y1="303.51" x2="67.25" y2="286.29" stroke="#4a4a4a" stroke-width="1.15" />
<line x1="65.55" y1="286.29" x2="68.95" y2="286.29" stroke="#1a1a1a" stroke-width="1.0" />
<line x1="65.55" y1="303.51" x2="68.95" y2="303.51" stroke="#1a1a1a" stroke-width="1.0" />
<line x1="126.90" y1="297.18" x2="126.90" y2="292.03" stroke="#4a4a4a" stroke-width="1.15" />
<line x1="125.20" y1="292.03" x2="128.60" y2="292.03" stroke="#1a1a1a" stroke-width="1.0" />
<line x1="125.20" y1="297.18" x2="128.60" y2="297.18" stroke="#1a1a1a" stroke-width="1.0" />
<line x1="156.90" y1="299.55" x2="156.90" y2="289.65" stroke="#4a4a4a" stroke-width="1.15" />
<line x1="155.20" y1="289.65" x2="158.60" y2="289.65" stroke="#1a1a1a" stroke-width="1.0" />
<line x1="155.20" y1="299.55" x2="158.60" y2="299.55" stroke="#1a1a1a" stroke-width="1.0" />
<polyline points="67.25,294.80 97.10,294.80 126.90,294.80 156.90,294.80" fill="none" stroke="#78b657" stroke-width="1.4"/>
<polyline points="67.25,271.83 97.10,282.13 126.90,283.32 156.90,281.34" fill="none" stroke="#2c4a7e" stroke-width="1.4"/>
<polyline points="67.25,275.40 97.10,282.13 126.90,281.73 156.90,278.17" fill="none" stroke="#a5012a" stroke-width="1.4"/>
<circle cx="67.25" cy="294.80" r="2.15" fill="#5cbe3c" stroke="#111" stroke-width="0.9"/>
<circle cx="97.10" cy="294.80" r="2.15" fill="#5cbe3c" stroke="#111" stroke-width="0.9"/>
<circle cx="126.90" cy="294.80" r="2.15" fill="#5cbe3c" stroke="#111" stroke-width="0.9"/>
<circle cx="156.90" cy="294.80" r="2.15" fill="#5cbe3c" stroke="#111" stroke-width="0.9"/>
<circle cx="67.25" cy="271.83" r="2.15" fill="#2c4a7e" stroke="#111" stroke-width="0.9"/>
<circle cx="97.10" cy="282.13" r="2.15" fill="#2c4a7e" stroke="#111" stroke-width="0.9"/>
<circle cx="126.90" cy="283.32" r="2.15" fill="#2c4a7e" stroke="#111" stroke-width="0.9"/>
<circle cx="156.90" cy="281.34" r="2.15" fill="#2c4a7e" stroke="#111" stroke-width="0.9"/>
<circle cx="67.25" cy="275.40" r="2.15" fill="#a5012a" stroke="#111" stroke-width="0.9"/>
<circle cx="97.10" cy="282.13" r="2.15" fill="#a5012a" stroke="#111" stroke-width="0.9"/>
<circle cx="126.90" cy="281.73" r="2.15" fill="#a5012a" stroke="#111" stroke-width="0.9"/>
<circle cx="156.90" cy="278.17" r="2.15" fill="#a5012a" stroke="#111" stroke-width="0.9"/>
<text x="19.20" y="333.79" font-size="9.6" textLength="80.87" lengthAdjust="spacingAndGlyphs" transform="rotate(-90 19.20 333.79)" fill="#232323" stroke="#232323" stroke-width="0.16"><tspan>CD45.2</tspan><tspan font-size="6.72" dy="-3.46">+</tspan><tspan dy="3.46">mCherry</tspan><tspan font-size="6.72" dy="-3.46">+</tspan><tspan dy="3.46"> cells</tspan></text>
<text x="30.40" y="340.99" font-size="9.6" textLength="95.11" lengthAdjust="spacingAndGlyphs" transform="rotate(-90 30.40 340.99)" fill="#232323" stroke="#232323" stroke-width="0.16"><tspan>normalized to control shRNA</tspan></text>
<text x="74.56" y="357.40" font-size="9.2" textLength="74.69" lengthAdjust="spacingAndGlyphs" fill="#232323" stroke="#232323" stroke-width="0.16"><tspan>Weeks after transplant</tspan></text>
<path d="M63.80 256.71L63.80 259.09M62.77 257.31L64.83 258.49M64.83 257.31L62.77 258.49" stroke="#1a1a1a" stroke-width="0.73" fill="none"/>
<circle cx="63.80" cy="257.90" r="0.52" fill="#1a1a1a"/>
<path d="M67.20 256.71L67.20 259.09M66.17 257.31L68.23 258.49M68.23 257.31L66.17 258.49" stroke="#1a1a1a" stroke-width="0.73" fill="none"/>
<circle cx="67.20" cy="257.90" r="0.52" fill="#1a1a1a"/>
<path d="M70.60 256.71L70.60 259.09M69.57 257.31L71.63 258.49M71.63 257.31L69.57 258.49" stroke="#1a1a1a" stroke-width="0.73" fill="none"/>
<circle cx="70.60" cy="257.90" r="0.52" fill="#1a1a1a"/>
<text x="61.36" y="266.80" font-size="7.8" textLength="11.69" lengthAdjust="spacingAndGlyphs" fill="#1a1a1a" stroke="#1a1a1a" stroke-width="0.3"><tspan>###</tspan></text>
<path d="M97.10 271.11L97.10 273.49M96.07 271.71L98.13 272.89M98.13 271.71L96.07 272.89" stroke="#1a1a1a" stroke-width="0.73" fill="none"/>
<circle cx="97.10" cy="272.30" r="0.52" fill="#1a1a1a"/>
<path d="M125.20 265.71L125.20 268.09M124.17 266.31L126.23 267.49M126.23 266.31L124.17 267.49" stroke="#1a1a1a" stroke-width="0.73" fill="none"/>
<circle cx="125.20" cy="266.90" r="0.52" fill="#1a1a1a"/>
<path d="M128.60 265.71L128.60 268.09M127.57 266.31L129.63 267.49M129.63 266.31L127.57 267.49" stroke="#1a1a1a" stroke-width="0.73" fill="none"/>
<circle cx="128.60" cy="266.90" r="0.52" fill="#1a1a1a"/>
<text x="122.96" y="276.20" font-size="7.8" textLength="8.09" lengthAdjust="spacingAndGlyphs" fill="#1a1a1a" stroke="#1a1a1a" stroke-width="0.3"><tspan>##</tspan></text>
<path d="M156.90 262.81L156.90 265.19M155.87 263.41L157.93 264.59M157.93 263.41L155.87 264.59" stroke="#1a1a1a" stroke-width="0.73" fill="none"/>
<circle cx="156.90" cy="264.00" r="0.52" fill="#1a1a1a"/>
<text x="155.07" y="273.00" font-size="7.8" textLength="3.67" lengthAdjust="spacingAndGlyphs" fill="#1a1a1a" stroke="#1a1a1a" stroke-width="0.3"><tspan>#</tspan></text>
<line x1="240.50" y1="252.30" x2="240.50" y2="335.10" stroke="#1a1a1a" stroke-width="1.25" />
<line x1="239.90" y1="334.50" x2="359.30" y2="334.50" stroke="#1a1a1a" stroke-width="1.15" />
<line x1="237.30" y1="334.40" x2="240.50" y2="334.40" stroke="#1a1a1a" stroke-width="1.0" />
<text x="223.27" y="337.00" font-size="8.9" textLength="11.52" lengthAdjust="spacingAndGlyphs" fill="#232323" stroke="#232323" stroke-width="0.16"><tspan>0.0</tspan></text>
<line x1="237.30" y1="314.60" x2="240.50" y2="314.60" stroke="#1a1a1a" stroke-width="1.0" />
<text x="223.27" y="317.20" font-size="8.9" textLength="11.57" lengthAdjust="spacingAndGlyphs" fill="#232323" stroke="#232323" stroke-width="0.16"><tspan>0.5</tspan></text>
<line x1="237.30" y1="294.80" x2="240.50" y2="294.80" stroke="#1a1a1a" stroke-width="1.0" />
<text x="222.96" y="297.40" font-size="8.9" textLength="11.84" lengthAdjust="spacingAndGlyphs" fill="#232323" stroke="#232323" stroke-width="0.16"><tspan>1.0</tspan></text>
<line x1="237.30" y1="275.00" x2="240.50" y2="275.00" stroke="#1a1a1a" stroke-width="1.0" />
<text x="222.96" y="277.60" font-size="8.9" textLength="11.88" lengthAdjust="spacingAndGlyphs" fill="#232323" stroke="#232323" stroke-width="0.16"><tspan>1.5</tspan></text>
<line x1="237.30" y1="255.20" x2="240.50" y2="255.20" stroke="#1a1a1a" stroke-width="1.0" />
<text x="223.18" y="257.80" font-size="8.9" textLength="11.61" lengthAdjust="spacingAndGlyphs" fill="#232323" stroke="#232323" stroke-width="0.16"><tspan>2.0</tspan></text>
<line x1="238.70" y1="324.50" x2="240.50" y2="324.50" stroke="#1a1a1a" stroke-width="1.0" />
<line x1="238.70" y1="304.70" x2="240.50" y2="304.70" stroke="#1a1a1a" stroke-width="1.0" />
<line x1="238.70" y1="284.90" x2="240.50" y2="284.90" stroke="#1a1a1a" stroke-width="1.0" />
<line x1="238.70" y1="265.10" x2="240.50" y2="265.10" stroke="#1a1a1a" stroke-width="1.0" />
<text x="253.17" y="344.70" font-size="8.9" textLength="3.74" lengthAdjust="spacingAndGlyphs" fill="#232323" stroke="#232323" stroke-width="0.16"><tspan>4</tspan></text>
<text x="282.87" y="344.70" font-size="8.9" textLength="4.02" lengthAdjust="spacingAndGlyphs" fill="#232323" stroke="#232323" stroke-width="0.16"><tspan>8</tspan></text>
<text x="310.11" y="344.70" font-size="8.9" textLength="8.81" lengthAdjust="spacingAndGlyphs" fill="#232323" stroke="#232323" stroke-width="0.16"><tspan>12</tspan></text>
<text x="340.11" y="344.70" font-size="8.9" textLength="8.72" lengthAdjust="spacingAndGlyphs" fill="#232323" stroke="#232323" stroke-width="0.16"><tspan>16</tspan></text>
<line x1="255.00" y1="306.28" x2="255.00" y2="284.90" stroke="#4a4a4a" stroke-width="1.15" />
<line x1="253.30" y1="284.90" x2="256.70" y2="284.90" stroke="#1a1a1a" stroke-width="1.0" />
<line x1="253.30" y1="306.28" x2="256.70" y2="306.28" stroke="#1a1a1a" stroke-width="1.0" />
<line x1="284.90" y1="305.89" x2="284.90" y2="284.90" stroke="#4a4a4a" stroke-width="1.15" />
<line x1="283.20" y1="284.90" x2="286.60" y2="284.90" stroke="#1a1a1a" stroke-width="1.0" />
<line x1="283.20" y1="305.89" x2="286.60" y2="305.89" stroke="#1a1a1a" stroke-width="1.0" />
<line x1="314.60" y1="311.83" x2="314.60" y2="286.48" stroke="#4a4a4a" stroke-width="1.15" />
<line x1="312.90" y1="286.48" x2="316.30" y2="286.48" stroke="#1a1a1a" stroke-width="1.0" />
<line x1="312.90" y1="311.83" x2="316.30" y2="311.83" stroke="#1a1a1a" stroke-width="1.0" />
<line x1="344.60" y1="319.75" x2="344.60" y2="284.90" stroke="#4a4a4a" stroke-width="1.15" />
<line x1="342.90" y1="284.90" x2="346.30" y2="284.90" stroke="#1a1a1a" stroke-width="1.0" />
<line x1="342.90" y1="319.75" x2="346.30" y2="319.75" stroke="#1a1a1a" stroke-width="1.0" />
<line x1="255.00" y1="286.88" x2="255.00" y2="269.85" stroke="#4a4a4a" stroke-width="1.15" />
<line x1="253.30" y1="269.85" x2="256.70" y2="269.85" stroke="#1a1a1a" stroke-width="1.0" />
<line x1="253.30" y1="286.88" x2="256.70" y2="286.88" stroke="#1a1a1a" stroke-width="1.0" />
<line x1="284.90" y1="306.68" x2="284.90" y2="296.38" stroke="#4a4a4a" stroke-width="1.15" />
<line x1="283.20" y1="296.38" x2="286.60" y2="296.38" stroke="#1a1a1a" stroke-width="1.0" />
<line x1="283.20" y1="306.68" x2="286.60" y2="306.68" stroke="#1a1a1a" stroke-width="1.0" />
<line x1="314.60" y1="312.62" x2="314.60" y2="296.78" stroke="#4a4a4a" stroke-width="1.15" />
<line x1="312.90" y1="296.78" x2="316.30" y2="296.78" stroke="#1a1a1a" stroke-width="1.0" />
<line x1="312.90" y1="312.62" x2="316.30" y2="312.62" stroke="#1a1a1a" stroke-width="1.0" />
<line x1="344.60" y1="314.60" x2="344.60" y2="283.32" stroke="#4a4a4a" stroke-width="1.15" />
<line x1="342.90" y1="283.32" x2="346.30" y2="283.32" stroke="#1a1a1a" stroke-width="1.0" />
<line x1="342.90" y1="314.60" x2="346.30" y2="314.60" stroke="#1a1a1a" stroke-width="1.0" />
<line x1="255.00" y1="294.80" x2="255.00" y2="284.90" stroke="#4a4a4a" stroke-width="1.15" />
<line x1="253.30" y1="284.90" x2="256.70" y2="284.90" stroke="#1a1a1a" stroke-width="1.0" />
<line x1="253.30" y1="294.80" x2="256.70" y2="294.80" stroke="#1a1a1a" stroke-width="1.0" />
<line x1="284.90" y1="307.47" x2="284.90" y2="290.84" stroke="#4a4a4a" stroke-width="1.15" />
<line x1="283.20" y1="290.84" x2="286.60" y2="290.84" stroke="#1a1a1a" stroke-width="1.0" />
<line x1="283.20" y1="307.47" x2="286.60" y2="307.47" stroke="#1a1a1a" stroke-width="1.0" />
<line x1="314.60" y1="316.58" x2="314.60" y2="294.01" stroke="#4a4a4a" stroke-width="1.15" />
<line x1="312.90" y1="294.01" x2="316.30" y2="294.01" stroke="#1a1a1a" stroke-width="1.0" />
<line x1="312.90" y1="316.58" x2="316.30" y2="316.58" stroke="#1a1a1a" stroke-width="1.0" />
<line x1="344.60" y1="319.75" x2="344.60" y2="290.05" stroke="#4a4a4a" stroke-width="1.15" />
<line x1="342.90" y1="290.05" x2="346.30" y2="290.05" stroke="#1a1a1a" stroke-width="1.0" />
<line x1="342.90" y1="319.75" x2="346.30" y2="319.75" stroke="#1a1a1a" stroke-width="1.0" />
<polyline points="255.00,294.80 284.90,294.80 314.60,294.80 344.60,294.80" fill="none" stroke="#78b657" stroke-width="1.4"/>
<polyline points="255.00,278.17 284.90,301.53 314.60,304.70 344.60,295.59" fill="none" stroke="#2c4a7e" stroke-width="1.4"/>
<polyline points="255.00,290.84 284.90,297.57 314.60,304.70 344.60,305.89" fill="none" stroke="#a5012a" stroke-width="1.4"/>
<circle cx="255.00" cy="294.80" r="2.15" fill="#3f6b2e" stroke="#111" stroke-width="0.9"/>
<circle cx="284.90" cy="294.80" r="2.15" fill="#3f6b2e" stroke="#111" stroke-width="0.9"/>
<circle cx="314.60" cy="294.80" r="2.15" fill="#3f6b2e" stroke="#111" stroke-width="0.9"/>
<circle cx="344.60" cy="294.80" r="2.15" fill="#3f6b2e" stroke="#111" stroke-width="0.9"/>
<circle cx="255.00" cy="278.17" r="2.15" fill="#2c4a7e" stroke="#111" stroke-width="0.9"/>
<circle cx="284.90" cy="301.53" r="2.15" fill="#2c4a7e" stroke="#111" stroke-width="0.9"/>
<circle cx="314.60" cy="304.70" r="2.15" fill="#2c4a7e" stroke="#111" stroke-width="0.9"/>
<circle cx="344.60" cy="295.59" r="2.15" fill="#2c4a7e" stroke="#111" stroke-width="0.9"/>
<circle cx="255.00" cy="290.84" r="2.15" fill="#a5012a" stroke="#111" stroke-width="0.9"/>
<circle cx="284.90" cy="297.57" r="2.15" fill="#a5012a" stroke="#111" stroke-width="0.9"/>
<circle cx="314.60" cy="304.70" r="2.15" fill="#a5012a" stroke="#111" stroke-width="0.9"/>
<circle cx="344.60" cy="305.89" r="2.15" fill="#a5012a" stroke="#111" stroke-width="0.9"/>
<text x="206.70" y="334.20" font-size="9.6" textLength="81.57" lengthAdjust="spacingAndGlyphs" transform="rotate(-90 206.70 334.20)" fill="#232323" stroke="#232323" stroke-width="0.16"><tspan>CD45.2</tspan><tspan font-size="6.72" dy="-3.46">+</tspan><tspan dy="3.46">mCherry</tspan><tspan font-size="6.72" dy="-3.46">+</tspan><tspan dy="3.46"> cells</tspan></text>
<text x="218.30" y="341.69" font-size="9.6" textLength="96.82" lengthAdjust="spacingAndGlyphs" transform="rotate(-90 218.30 341.69)" fill="#232323" stroke="#232323" stroke-width="0.16"><tspan>normalized to control shRNA</tspan></text>
<text x="262.66" y="357.20" font-size="9.2" textLength="74.29" lengthAdjust="spacingAndGlyphs" fill="#232323" stroke="#232323" stroke-width="0.16"><tspan>Weeks after transplant</tspan></text>
<rect x="0.00" y="0.00" width="520.00" height="1.10" fill="#000" />
<rect x="0.00" y="0.00" width="1.10" height="367.00" fill="#000" />
<rect x="518.80" y="0.00" width="1.20" height="367.00" fill="#000" />
<rect x="0.00" y="365.80" width="520.00" height="1.20" fill="#000" />
</svg>
</body></html>
